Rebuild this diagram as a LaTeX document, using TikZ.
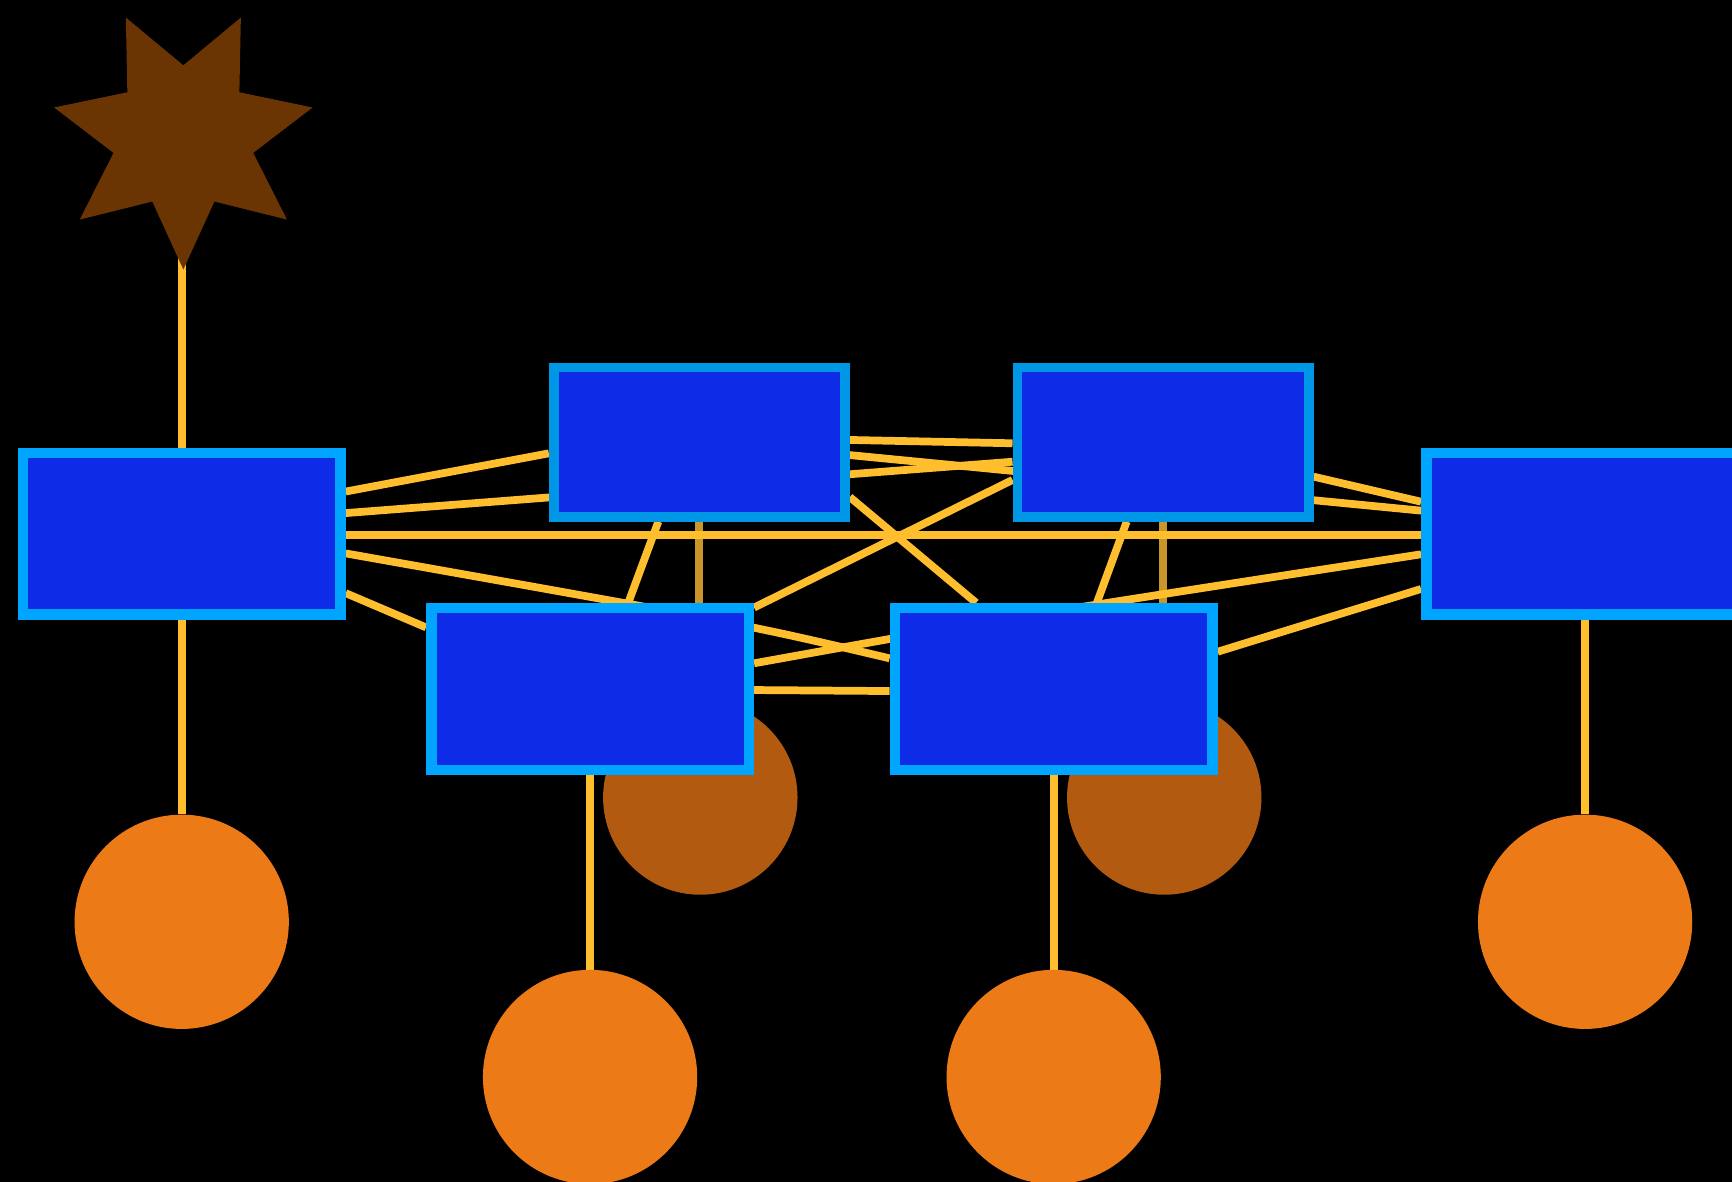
\documentclass[tikz,border=0pt]{standalone}
\usetikzlibrary{shapes.geometric,backgrounds}

\definecolor{boxfill}{RGB}{14,44,232}
\definecolor{frontrim}{RGB}{0,165,255}
\definecolor{backrim}{RGB}{0,150,230}
\definecolor{wireyellow}{RGB}{255,190,46}
\definecolor{wiredark}{RGB}{200,150,42}
\definecolor{leaforange}{RGB}{236,122,22}
\definecolor{leafbrown}{RGB}{178,91,16}
\definecolor{starbrown}{RGB}{107,52,3}

\begin{document}
\begin{tikzpicture}[x=1pt, y=-1pt,
    bigbox/.style={rectangle, draw=frontrim, fill=boxfill, line width=9.5pt,
      minimum width=287.5pt, minimum height=146.5pt, inner sep=0pt},
    smallbox/.style={rectangle, draw=backrim, fill=boxfill, line width=9pt,
      minimum width=263.5pt, minimum height=135pt, inner sep=0pt},
    leaf/.style={circle, fill=leaforange, minimum size=194pt, inner sep=0pt},
    backleaf/.style={circle, fill=leafbrown, minimum size=176pt, inner sep=0pt},
    wire/.style={draw=wireyellow, line width=7pt},
    backwire/.style={draw=wiredark, line width=7pt}]
    \useasboundingbox (0,0) rectangle (1568,1070);

    % Back row: circles and boxes that sit further away
    \node[backleaf] (bB) at (634,722) {};
    \node[backleaf] (bC) at (1054,722) {};
    \node[smallbox] (B) at (633.1,400.2) {};
    \node[smallbox] (C) at (1052.9,400.2) {};

    % Front row of boxes
    \node[bigbox] (A) at (164.5,483.2) {};
    \node[bigbox] (D) at (1435,483.2) {};
    \node[bigbox] (E) at (534.2,623.7) {};
    \node[bigbox] (F) at (953.9,623.7) {};

    % Leaves and the star on top
    \node[leaf] (cA) at (164.5,834.5) {};
    \node[leaf] (cE) at (534.2,975) {};
    \node[leaf] (cF) at (953.9,975) {};
    \node[leaf] (cD) at (1435,834.5) {};
    \node[star, star points=7, star point ratio=1.85, minimum size=240pt,
      inner sep=0pt, shape border rotate=180, fill=starbrown] (star) at (166,124) {};

    \begin{pgfonlayer}{background}
      \fill[black] (0,0) rectangle (1568,1070);

      % Vertical links
      \draw[wire] (A) -- (A |- star);
      \draw[wire] (A) -- (cA);
      \draw[wire] (E) -- (cE);
      \draw[wire] (F) -- (cF);
      \draw[wire] (D) -- (cD);
      \draw[backwire] (B) -- (B |- bB);
      \draw[backwire] (C) -- (C |- bC);

      % Links between the boxes
      \draw[wire] (A.east |- 0,445) -- (B.west |- 0,410.4);
      \draw[wire] (A.east |- 0,464.5) -- (C.west |- 0,418);
      \draw[wire] (A.east |- 0,484.3) -- (D.west |- 0,484.3);
      \draw[wire] (A.east |- 0,501) .. controls (674,565) .. (F.west |- 0,596);
      \draw[wire] (A.east |- 0,537) -- (E.west |- 0,568);
      \draw[wire] (B.south -| 596,0) -- (E.north -| 568.8,0);
      \draw[wire] (B.east |- 0,398.3) -- (C.west |- 0,401.3);
      \draw[wire] (B.east |- 0,412) -- (D.west |- 0,462.3);
      \draw[wire] (B.east |- 0,450) -- (F.north -| 883.7,0);
      \draw[wire] (E.east |- 0,550) -- (C.west |- 0,434.5);
      \draw[wire] (C.south -| 1020,0) -- (F.north -| 993,0);
      \draw[wire] (C.east |- 0,431.5) -- (D.west |- 0,454.2);
      \draw[wire] (D.west |- 0,501.8) .. controls (896,562) .. (E.east |- 0,600.5);
      \draw[wire] (D.west |- 0,533.2) -- (F.east |- 0,590);
      \draw[wire] (E.east |- 0,624.7) -- (F.west |- 0,625.6);
    \end{pgfonlayer}
  \end{tikzpicture}
\end{document}
